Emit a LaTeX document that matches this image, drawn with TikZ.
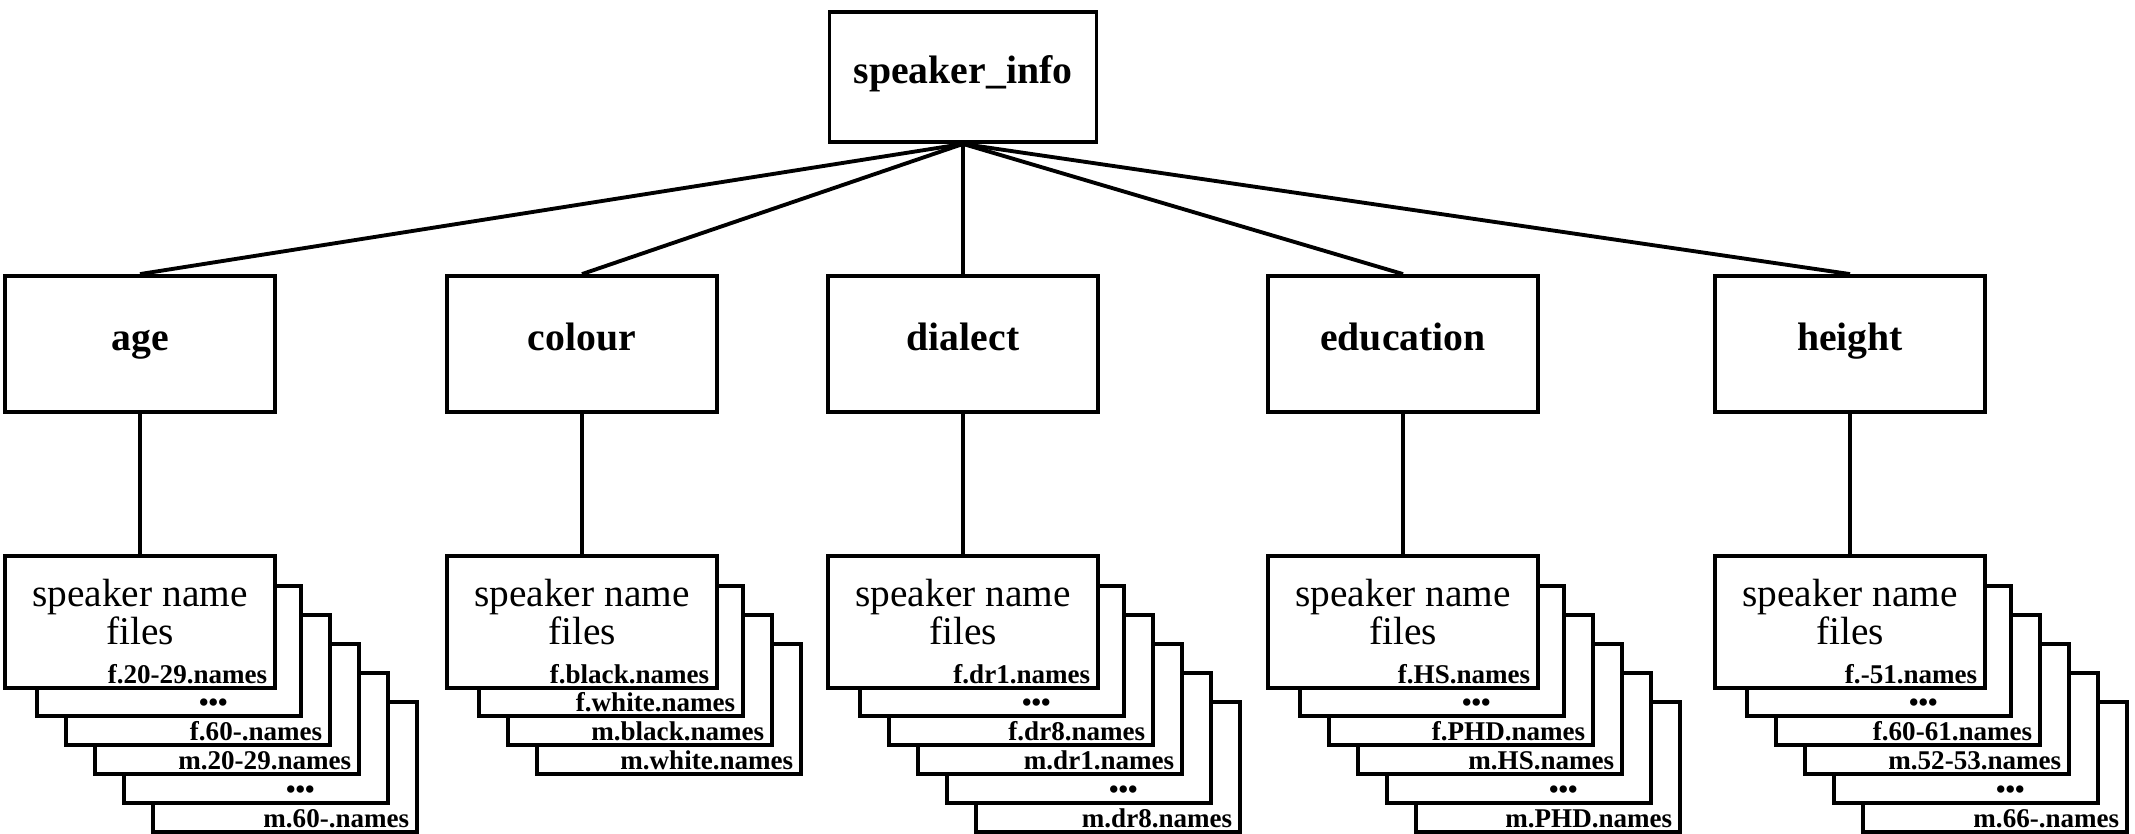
\documentclass[tikz,border=0pt]{standalone}
\usepackage{fontspec}
\setmainfont{Liberation Serif}
\usetikzlibrary{positioning,backgrounds}

\newcommand{\moredots}{\textbullet\textbullet\textbullet\kern18.7pt}

\begin{document}
\begin{tikzpicture}[
    x=0.1mm, y=-0.1mm,
    node distance=14mm,
    box/.style={draw, line width=1.1pt, fill=white, minimum width=27mm, minimum height=13.6mm, text height=3mm, text depth=1.7mm, font=\fontsize{11.3}{13}\selectfont\bfseries},
    filebox/.style={draw, line width=1.1pt, fill=white, minimum width=27mm, minimum height=13.2mm, align=center, text depth=2.1mm, font=\fontsize{11.2}{10.8}\selectfont},
    sheet/.style={draw, line width=1.1pt, fill=white, minimum width=26.4mm, minimum height=13mm},
    tag/.style={font=\fontsize{7.7}{8}\selectfont\bfseries, anchor=base east, inner sep=0pt, xshift=-0.9mm, yshift=0.6mm},
    link/.style={line width=1.1pt},
]
\useasboundingbox (0,0) rectangle (2135,833);

% Row 1: root
\node[box, minimum width=26.7mm, minimum height=13mm] (info) at (963,77) {speaker\_info};

% Row 2: attributes
\node[box] (age) at (140,344) {age};
\node[box] (colour) at (582,344) {colour};
\node[box] (dialect) at (963,344) {dialect};
\node[box] (education) at (1403,344) {education};
\node[box] (height) at (1850,344) {height};

% Row 3: front file of each stack
\node[filebox, below=of age, label={[tag]south east:f.20-29.names}] (age-files) {speaker name\\files};
\node[filebox, below=of colour, label={[tag]south east:f.black.names}] (colour-files) {speaker name\\files};
\node[filebox, below=of dialect, label={[tag]south east:f.dr1.names}] (dialect-files) {speaker name\\files};
\node[filebox, below=of education, label={[tag]south east:f.HS.names}] (education-files) {speaker name\\files};
\node[filebox, below=of height, label={[tag]south east:f.-51.names}] (height-files) {speaker name\\files};

% Files behind the front one, deepest first
\begin{scope}[on background layer]
  \foreach \k/\tagtext in {5/m.60-.names, 4/\moredots, 3/m.20-29.names, 2/f.60-.names, 1/\moredots}
    \node[sheet, label={[tag]south east:\tagtext}] at ([shift={(29*\k,29*\k)}]age-files) {};
  \foreach \k/\tagtext in {3/m.white.names, 2/m.black.names, 1/f.white.names}
    \node[sheet, label={[tag]south east:\tagtext}] at ([shift={(29*\k,29*\k)}]colour-files) {};
  \foreach \k/\tagtext in {5/m.dr8.names, 4/\moredots, 3/m.dr1.names, 2/f.dr8.names, 1/\moredots}
    \node[sheet, label={[tag]south east:\tagtext}] at ([shift={(29*\k,29*\k)}]dialect-files) {};
  \foreach \k/\tagtext in {5/m.PHD.names, 4/\moredots, 3/m.HS.names, 2/f.PHD.names, 1/\moredots}
    \node[sheet, label={[tag]south east:\tagtext}] at ([shift={(29*\k,29*\k)}]education-files) {};
  \foreach \k/\tagtext in {5/m.66-.names, 4/\moredots, 3/m.52-53.names, 2/f.60-61.names, 1/\moredots}
    \node[sheet, label={[tag]south east:\tagtext}] at ([shift={(29*\k,29*\k)}]height-files) {};
\end{scope}

% Connectors
\foreach \cat in {age,colour,dialect,education,height} {
  \draw[link] (info.south) -- (\cat.north);
  \draw[link] (\cat) -- (\cat-files);
}

\end{tikzpicture}
\end{document}
